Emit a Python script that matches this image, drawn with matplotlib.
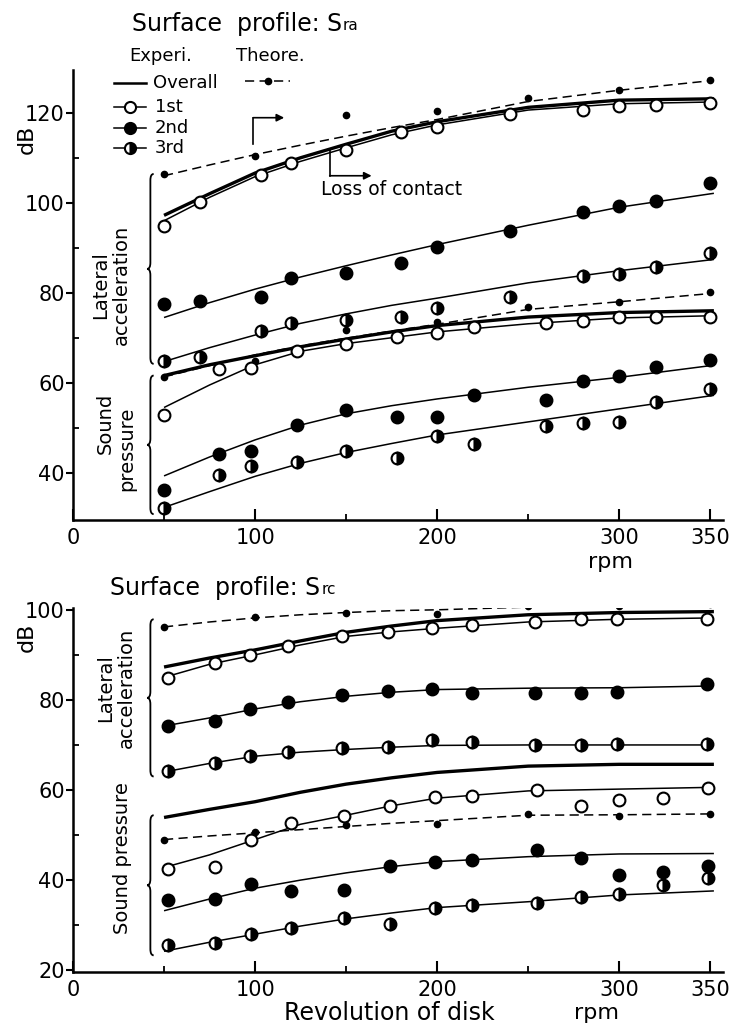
import matplotlib
matplotlib.use("Agg")
import matplotlib.pyplot as plt
from matplotlib.path import Path
from matplotlib.patches import PathPatch

plt.rcParams['font.family'] = ['DejaVu Sans']

# ---------------- data: Surface profile Sra (top) ----------------
CURVE_RPM = [50, 75, 100, 125, 150, 175, 200, 250, 300, 352]

SRA_LAT_THEO_CURVE = [106.0, 108.4, 110.7, 112.8, 114.8, 116.7, 118.5, 122.5, 125.0, 127.2]
SRA_LAT_OVERALL = [97.2, 102.0, 106.6, 110.0, 113.0, 115.9, 118.0, 121.2, 122.8, 123.1]
SRA_LAT_1_CURVE = [96.0, 101.2, 105.8, 109.2, 112.2, 115.1, 117.3, 120.6, 122.0, 122.4]
SRA_LAT_2_CURVE = [74.5, 77.8, 80.8, 83.5, 86.0, 88.4, 90.7, 95.0, 99.0, 102.1]
SRA_LAT_3_CURVE = [64.7, 67.8, 70.6, 73.2, 75.3, 77.2, 78.8, 82.2, 84.9, 87.4]
SRA_SND_THEO_CURVE = [61.3, 63.8, 66.2, 68.2, 69.9, 71.5, 73.0, 76.3, 78.0, 79.9]
SRA_SND_OVERALL = [61.6, 64.0, 66.0, 68.0, 69.7, 71.3, 72.7, 74.6, 75.6, 76.0]
SRA_SND_1_CURVE = [54.5, 59.5, 64.0, 67.0, 68.7, 70.0, 71.3, 73.1, 74.4, 74.9]
SRA_SND_2_CURVE = [39.3, 43.5, 47.3, 50.6, 53.1, 54.9, 56.4, 59.0, 61.2, 63.9]
SRA_SND_3_CURVE = [32.3, 35.8, 39.2, 42.1, 44.5, 46.5, 48.4, 51.3, 54.2, 57.2]

SRA_THEO_RPM = [50, 100, 150, 200, 250, 300, 350]
SRA_LAT_THEO = [106.4, 110.4, 119.5, 120.3, 123.2, 125.1, 127.3]
SRA_SND_THEO = [61.3, 64.9, 71.8, 73.4, 76.9, 77.9, 80.2]

SRA_LAT_RPM = [50, 70, 103, 120, 150, 180, 200, 240, 280, 300, 320, 350]
SRA_LAT_1 = [94.9, 100.1, 106.1, 108.8, 111.8, 115.8, 116.9, 119.7, 120.7, 121.5, 121.8, 122.1]
SRA_LAT_2 = [77.6, 78.2, 79.0, 83.3, 84.3, 86.5, 90.1, 93.8, 97.9, 99.3, 100.4, 104.3]
SRA_LAT_3 = [64.9, 65.8, 71.6, 73.3, 73.9, 74.5, 76.7, 79.1, 83.8, 84.1, 85.8, 88.8]

SRA_SND_RPM = [50, 80, 98, 123, 150, 178, 200, 220, 260, 280, 300, 320, 350]
SRA_SND_1 = [52.9, 63.0, 63.3, 67.0, 68.6, 70.1, 71.0, 72.3, 73.2, 73.7, 74.5, 74.7, 74.5]
SRA_SND_2 = [36.2, 44.2, 44.9, 50.6, 53.9, 52.3, 52.3, 57.3, 56.2, 60.3, 61.4, 63.6, 65.1]
SRA_SND_3 = [32.2, 39.5, 41.6, 42.3, 44.9, 43.2, 48.2, 46.4, 50.3, 51.0, 51.2, 55.8, 58.6]

# ---------------- data: Surface profile Src (bottom) ----------------
SRC_LAT_THEO_CURVE = [96.2, 97.3, 98.2, 98.9, 99.4, 99.8, 100.0, 100.6, 101.0, 101.3]
SRC_LAT_OVERALL = [87.3, 89.3, 91.1, 93.1, 95.0, 96.4, 97.6, 98.9, 99.4, 99.6]
SRC_LAT_1_CURVE = [85.0, 87.9, 90.0, 92.2, 94.1, 95.1, 95.9, 97.3, 97.9, 98.2]
SRC_LAT_2_CURVE = [74.2, 76.0, 78.0, 79.6, 80.8, 81.7, 82.3, 82.6, 82.7, 83.1]
SRC_LAT_3_CURVE = [64.0, 65.9, 67.5, 68.4, 69.0, 69.5, 69.9, 70.0, 70.0, 70.0]
SRC_SND_THEO_CURVE = [49.0, 49.8, 50.5, 51.2, 51.9, 52.6, 53.2, 54.4, 54.5, 54.7]
SRC_SND_OVERALL = [53.9, 55.7, 57.4, 59.5, 61.3, 62.7, 63.9, 65.3, 65.7, 65.7]
SRC_SND_1_CURVE = [42.8, 45.6, 49.0, 52.4, 54.4, 56.5, 58.2, 59.8, 60.2, 60.6]
SRC_SND_2_CURVE = [33.2, 35.8, 38.2, 40.0, 41.6, 43.0, 44.1, 45.2, 45.8, 45.9]
SRC_SND_3_CURVE = [24.2, 26.2, 28.0, 29.8, 31.4, 32.7, 33.9, 35.2, 36.7, 37.6]

SRC_THEO_RPM = [50, 100, 150, 200, 250, 300, 350]
SRC_LAT_THEO = [96.2, 98.3, 99.4, 99.0, 100.9, 100.9, 101.3]
SRC_SND_THEO = [49.0, 50.7, 52.2, 52.4, 54.7, 54.3, 54.7]

SRC_LAT_RPM = [52, 78, 97, 118, 148, 173, 197, 219, 254, 279, 299, 348]
SRC_LAT_1 = [84.8, 88.2, 90.0, 91.9, 94.2, 95.0, 95.9, 96.7, 97.4, 98.0, 98.0, 97.9]
SRC_LAT_2 = [74.3, 75.4, 78.0, 79.5, 81.0, 81.9, 82.4, 81.6, 81.5, 81.6, 81.7, 83.6]
SRC_LAT_3 = [64.3, 66.1, 67.6, 68.5, 69.3, 69.6, 71.1, 70.7, 69.9, 70.0, 70.2, 70.2]

SRC_SND_RPM = [52, 78, 98, 120, 149, 174, 199, 219, 255, 279, 300, 324, 349]
SRC_SND_1 = [42.4, 43.0, 49.0, 52.6, 54.2, 56.4, 58.4, 58.7, 59.9, 56.4, 57.8, 58.2, 60.5]
SRC_SND_2 = [35.6, 35.7, 39.1, 37.6, 37.8, 43.1, 44.1, 44.4, 46.7, 45.0, 41.1, 41.9, 43.1]
SRC_SND_3 = [25.6, 26.1, 28.0, 29.3, 31.6, 30.2, 33.9, 34.4, 35.0, 36.2, 37.0, 38.9, 40.5]

X_TICKS = [0, 100, 200, 300, 350]
X_MINOR = [50, 150, 250]

# ---------------- styles ----------------
K = 'black'
MS = 8.5
MEW = 1.5
THICK = 2.4
THIN = 1.1
DASH = (6, 3.5)

M1 = dict(marker='o', ms=MS, mfc='white', mec=K, mew=MEW, ls='none')
M2 = dict(marker='o', ms=MS, mfc=K, mec=K, mew=MEW, ls='none')
M3 = dict(marker='o', ms=MS, mfc=K, mfcalt='white', fillstyle='right', mec=K, mew=MEW, ls='none')
MT = dict(marker='o', ms=4.5, mfc=K, mec=K, ls='none')

FIG_W, FIG_H = 737, 1026
fig = plt.figure(figsize=(FIG_W / 100, FIG_H / 100), dpi=100)


def px_axes(l, t, r, b):
    return fig.add_axes([l / FIG_W, 1 - b / FIG_H, (r - l) / FIG_W, (b - t) / FIG_H])


def brace(ax, x, y_lo, y_hi, dx=1.8, dy=1.4):
    ym = (y_lo + y_hi) / 2
    verts = [(x + dx, y_hi), (x, y_hi), (x, y_hi - dy),
             (x, ym + dy),
             (x, ym), (x - dx, ym),
             (x, ym), (x, ym - dy),
             (x, y_lo + dy),
             (x, y_lo), (x + dx, y_lo)]
    codes = [Path.MOVETO, Path.CURVE3, Path.CURVE3, Path.LINETO,
             Path.CURVE3, Path.CURVE3, Path.CURVE3, Path.CURVE3,
             Path.LINETO, Path.CURVE3, Path.CURVE3]
    ax.add_patch(PathPatch(Path(verts, codes), fill=False, lw=1.3, ec=K, clip_on=False))


def style_axes(ax, ylim, yticks, yminor):
    ax.set_xlim(0, 357)
    ax.set_ylim(*ylim)
    for s in ('top', 'right'):
        ax.spines[s].set_visible(False)
    for s in ('left', 'bottom'):
        ax.spines[s].set_linewidth(1.8)
    ax.set_xticks(X_TICKS)
    ax.set_xticks(X_MINOR, minor=True)
    ax.set_yticks(yticks)
    ax.set_yticks(yminor, minor=True)
    ax.tick_params(axis='x', which='major', direction='in', length=8, width=1.5, pad=6, labelsize=15)
    ax.tick_params(axis='x', which='minor', direction='in', length=4.5, width=1.3)
    ax.tick_params(axis='y', which='major', direction='out', length=5, width=1.5, pad=1, labelsize=15)
    ax.tick_params(axis='y', which='minor', direction='in', length=4, width=1.3)


def draw_panel(ax, d):
    ln = dict(color=K, solid_capstyle='butt')
    # theoretical dashed
    for curve, dots in ((d['lat_theo_c'], d['lat_theo']), (d['snd_theo_c'], d['snd_theo'])):
        l, = ax.plot(CURVE_RPM, curve, lw=THIN, **ln)
        l.set_dashes(DASH)
        ax.plot(d['theo_rpm'], dots, **MT)
    # overall thick
    ax.plot(CURVE_RPM, d['lat_overall'], lw=THICK, **ln)
    ax.plot(CURVE_RPM, d['snd_overall'], lw=THICK, **ln)
    # order curves thin
    for c in ('lat_1c', 'lat_2c', 'lat_3c', 'snd_1c', 'snd_2c', 'snd_3c'):
        ax.plot(CURVE_RPM, d[c], lw=THIN, **ln)
    ax.plot(d['lat_rpm'], d['lat_1'], **M1)
    ax.plot(d['lat_rpm'], d['lat_2'], **M2)
    ax.plot(d['lat_rpm'], d['lat_3'], **M3)
    ax.plot(d['snd_rpm'], d['snd_1'], **M1)
    ax.plot(d['snd_rpm'], d['snd_2'], **M2)
    ax.plot(d['snd_rpm'], d['snd_3'], **M3)


# ================= top panel =================
ax1 = px_axes(73, 70, 723, 520)
style_axes(ax1, (29.5, 129.5), [40, 60, 80, 100, 120], [50, 70, 90, 110])
draw_panel(ax1, dict(
    lat_theo_c=SRA_LAT_THEO_CURVE, snd_theo_c=SRA_SND_THEO_CURVE,
    theo_rpm=SRA_THEO_RPM, lat_theo=SRA_LAT_THEO, snd_theo=SRA_SND_THEO,
    lat_overall=SRA_LAT_OVERALL, snd_overall=SRA_SND_OVERALL,
    lat_1c=SRA_LAT_1_CURVE, lat_2c=SRA_LAT_2_CURVE, lat_3c=SRA_LAT_3_CURVE,
    snd_1c=SRA_SND_1_CURVE, snd_2c=SRA_SND_2_CURVE, snd_3c=SRA_SND_3_CURVE,
    lat_rpm=SRA_LAT_RPM, lat_1=SRA_LAT_1, lat_2=SRA_LAT_2, lat_3=SRA_LAT_3,
    snd_rpm=SRA_SND_RPM, snd_1=SRA_SND_1, snd_2=SRA_SND_2, snd_3=SRA_SND_3))

brace(ax1, 42.5, 64.2, 106.4)
brace(ax1, 42.5, 30.8, 61.6)
ax1.text(21, 81.8, "Lateral\nacceleration", rotation=90, ha='center', va='center',
         fontsize=14, linespacing=1.15)
ax1.text(17.5, 50.9, "Sound", rotation=90, ha='center', va='center', fontsize=14)
ax1.text(29.5, 45.3, "pressure", rotation=90, ha='center', va='center', fontsize=14)

# title
t1 = ax1.text(32.4, 139.8, "Surface  profile: S", fontsize=17, ha='left', va='center', clip_on=False)
ax1.annotate("ra", xy=(1, 0), xycoords=t1, xytext=(0.5, 4), textcoords='offset points',
             ha='left', va='baseline', fontsize=11)

# legend (drawn in the figure, as in the original)
ax1.text(31, 132.7, "Experi.", fontsize=13, ha='left', va='center', clip_on=False)
ax1.text(89.6, 132.7, "Theore.", fontsize=13, ha='left', va='center', clip_on=False)
LEG_X = [22.7, 40.3]
ax1.plot(LEG_X, [126.5, 126.5], color=K, lw=1.8, clip_on=False)
ax1.text(44, 126.5, "Overall", fontsize=13, ha='left', va='center')
for yy, lab, mk in ((121.2, "1st", M1), (116.6, "2nd", M2), (112.1, "3rd", M3)):
    ax1.plot(LEG_X, [yy, yy], color=K, lw=THIN, clip_on=False)
    st = dict(mk)
    st['ms'] = 8
    ax1.plot([31.5], [yy], **st)
    ax1.text(45, yy, lab, fontsize=13, ha='left', va='center')
lt, = ax1.plot([94.5, 119], [127.1, 127.1], color=K, lw=THIN)
lt.set_dashes(DASH)
ax1.plot([107], [127.1], **MT)

# arrows
ax1.plot([99, 99], [113.1, 118.9], color=K, lw=1.2)
ax1.annotate('', xy=(116, 118.9), xytext=(99, 118.9),
             arrowprops=dict(arrowstyle='-|>', lw=1.2, color=K, mutation_scale=11, shrinkA=0, shrinkB=0))
ax1.plot([141, 141], [106, 112], color=K, lw=1.2)
ax1.annotate('', xy=(164, 106), xytext=(141, 106),
             arrowprops=dict(arrowstyle='-|>', lw=1.2, color=K, mutation_scale=11, shrinkA=0, shrinkB=0))
ax1.text(136, 103.0, "Loss of contact", fontsize=13.5, ha='left', va='center')

ax1.text(-25.5, 114.2, "dB", rotation=90, fontsize=16, ha='center', va='center', clip_on=False)
fig.text(610 / FIG_W, 1 - 562 / FIG_H, "rpm", fontsize=16, ha='center', va='center')

# ================= bottom panel =================
ax2 = px_axes(73, 608, 723, 972)
style_axes(ax2, (19.6, 100.4), [20, 40, 60, 80, 100], [30, 50, 70, 90])
draw_panel(ax2, dict(
    lat_theo_c=SRC_LAT_THEO_CURVE, snd_theo_c=SRC_SND_THEO_CURVE,
    theo_rpm=SRC_THEO_RPM, lat_theo=SRC_LAT_THEO, snd_theo=SRC_SND_THEO,
    lat_overall=SRC_LAT_OVERALL, snd_overall=SRC_SND_OVERALL,
    lat_1c=SRC_LAT_1_CURVE, lat_2c=SRC_LAT_2_CURVE, lat_3c=SRC_LAT_3_CURVE,
    snd_1c=SRC_SND_1_CURVE, snd_2c=SRC_SND_2_CURVE, snd_3c=SRC_SND_3_CURVE,
    lat_rpm=SRC_LAT_RPM, lat_1=SRC_LAT_1, lat_2=SRC_LAT_2, lat_3=SRC_LAT_3,
    snd_rpm=SRC_SND_RPM, snd_1=SRC_SND_1, snd_2=SRC_SND_2, snd_3=SRC_SND_3))

brace(ax2, 42.5, 63.0, 97.9)
brace(ax2, 42.5, 23.3, 54.4)
ax2.text(23.6, 82.7, "Lateral\nacceleration", rotation=90, ha='center', va='center',
         fontsize=14, linespacing=1.15)
ax2.text(27, 44.9, "Sound pressure", rotation=90, ha='center', va='center', fontsize=14)

t2 = ax2.text(20.5, 104.9, "Surface  profile: S", fontsize=17, ha='left', va='center', clip_on=False)
ax2.annotate("rc", xy=(1, 0), xycoords=t2, xytext=(0.5, 4), textcoords='offset points',
             ha='left', va='baseline', fontsize=11)

ax2.text(-25.5, 94, "dB", rotation=90, fontsize=16, ha='center', va='center', clip_on=False)
fig.text(389 / FIG_W, 1 - 1013 / FIG_H, "Revolution of disk", fontsize=17, ha='center', va='center')
fig.text(597 / FIG_W, 1 - 1013 / FIG_H, "rpm", fontsize=16, ha='center', va='center')

fig.savefig("out.png", dpi=100)
